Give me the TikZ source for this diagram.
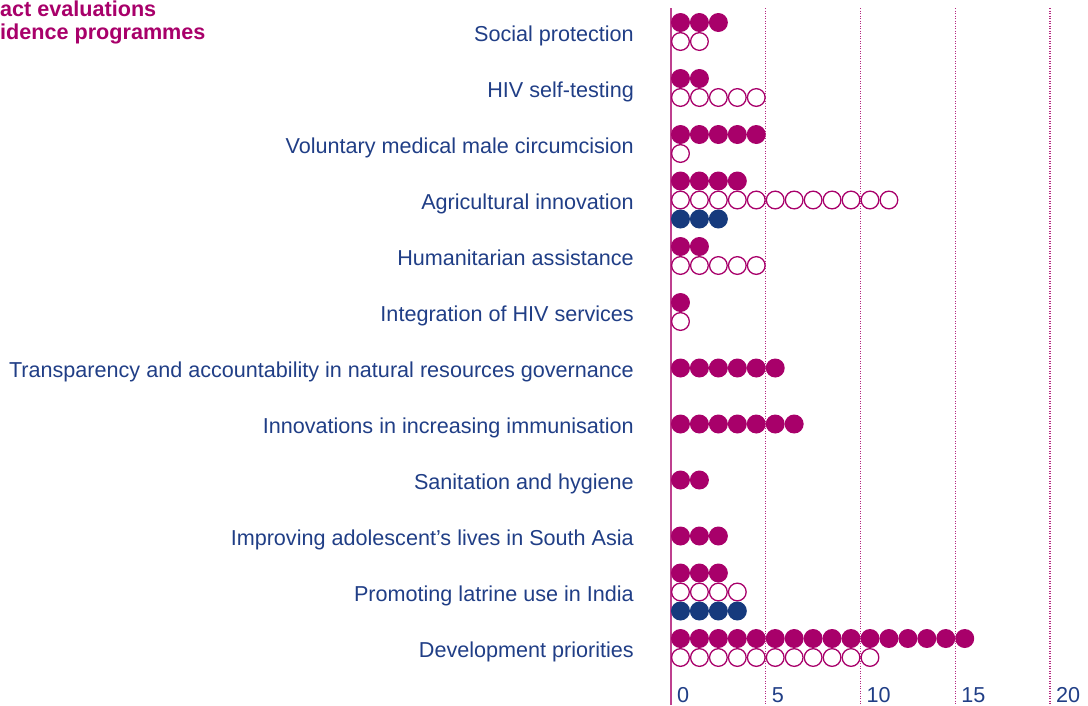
\documentclass[tikz,border=0pt]{standalone}
\usepackage{fontspec}
\setmainfont{Liberation Sans}
\usepackage{tikz}
\usetikzlibrary{positioning}

\definecolor{plum}{RGB}{168,0,106}
\definecolor{navy}{RGB}{22,58,125}
\definecolor{labelblue}{RGB}{32,62,134}

\tikzset{
	heading/.style = {text=plum, font=\fontsize{21.6}{23}\selectfont\bfseries, inner sep=0pt, anchor=base west},
	catlabel/.style = {text=labelblue, font=\fontsize{21.6}{24}\selectfont, inner sep=0pt, anchor=base east},
	ticklabel/.style = {text=labelblue, font=\fontsize{21.6}{24}\selectfont, inner sep=0pt, anchor=base west},
	gridrule/.style = {plum!85, line width=1.2pt, dash pattern=on 1.2pt off 1.3pt},
	axisrule/.style = {plum!75, line width=1.6pt},
	dotfull/.style = {fill=plum, radius=9.5pt},
	dotopen/.style = {draw=plum, line width=1.3pt, radius=8.85pt},
	dotnavy/.style = {fill=navy, radius=9.5pt},
}

% one row of dots: y, how many, style
\newcommand\dotrow[3]{%
	\foreach \n in {1,...,#2}
		\path[#3] ({671+(\n-0.5)*18.95},#1) circle;
}

\begin{document}
\begin{tikzpicture}[x=1pt, y=-1pt]
	\useasboundingbox (0,0) rectangle (1088,705);

	% heading, cut off at the left edge
	\node[heading] (head1) at (0,16) {act evaluations};
	\node[heading] (head2) at (0,39) {idence programmes};

	% grid and axis
	\foreach \v in {5,10,15,20}
		\draw[gridrule] ({671+\v*18.95},8) -- ({671+\v*18.95},705);
	\draw[axisrule] (671,8) -- (671,705);
	\foreach \v in {0,5,10,15,20}
		\node[ticklabel] (tick\v) at ({677+\v*18.95},702) {\v};

	% categories
	\node[catlabel] (social) at (634,41) {Social protection};
	\node[catlabel] (selftest) at (634,97) {HIV self-testing};
	\node[catlabel] (vmmc) at (634,153) {Voluntary medical male circumcision};
	\node[catlabel] (agri) at (634,209) {Agricultural innovation};
	\node[catlabel] (human) at (634,265) {Humanitarian assistance};
	\node[catlabel] (integ) at (634,321) {Integration of HIV services};
	\node[catlabel] (transp) at (634,377) {Transparency and accountability in natural resources governance};
	\node[catlabel] (immun) at (634,433) {Innovations in increasing immunisation};
	\node[catlabel] (sanit) at (634,489) {Sanitation and hygiene};
	\node[catlabel] (adol) at (634,545) {Improving adolescent’s lives in South Asia};
	\node[catlabel] (latrine) at (634,601) {Promoting latrine use in India};
	\node[catlabel] (devprio) at (634,657) {Development priorities};

	% dots
	\dotrow{22.5}{3}{dotfull}
	\dotrow{41.5}{2}{dotopen}
	\dotrow{78.5}{2}{dotfull}
	\dotrow{97.5}{5}{dotopen}
	\dotrow{134.5}{5}{dotfull}
	\dotrow{153.5}{1}{dotopen}
	\dotrow{181}{4}{dotfull}
	\dotrow{200}{12}{dotopen}
	\dotrow{219}{3}{dotnavy}
	\dotrow{246.5}{2}{dotfull}
	\dotrow{265.5}{5}{dotopen}
	\dotrow{302.5}{1}{dotfull}
	\dotrow{321.5}{1}{dotopen}
	\dotrow{368}{6}{dotfull}
	\dotrow{424}{7}{dotfull}
	\dotrow{480}{2}{dotfull}
	\dotrow{536}{3}{dotfull}
	\dotrow{573}{3}{dotfull}
	\dotrow{592}{4}{dotopen}
	\dotrow{611}{4}{dotnavy}
	\dotrow{638.5}{16}{dotfull}
	\dotrow{657.5}{11}{dotopen}
\end{tikzpicture}
\end{document}
